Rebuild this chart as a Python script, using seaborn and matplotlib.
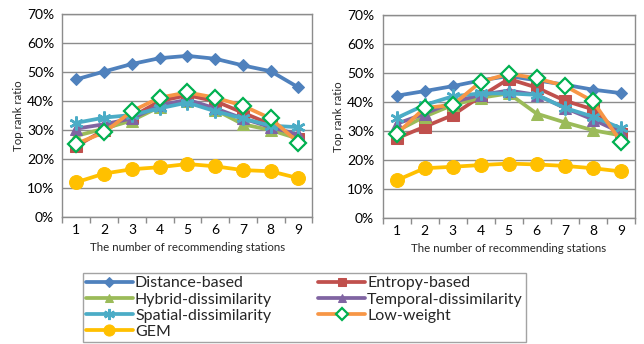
import numpy as np
import pandas as pd
import matplotlib
matplotlib.use('Agg')
import matplotlib.pyplot as plt
from matplotlib.ticker import FixedLocator, PercentFormatter
import seaborn as sns

# 数据（从图中读取，单位 %）
stations = [1, 2, 3, 4, 5, 6, 7, 8, 9]

left_distance = [47.5, 50.2, 52.8, 54.8, 55.6, 54.6, 52.3, 50.3, 44.7]
left_entropy = [24.5, 30.0, 34.5, 40.0, 42.0, 40.0, 36.0, 32.0, 27.0]
left_hybrid = [28.0, 30.5, 33.3, 38.0, 40.0, 37.0, 32.0, 30.0, 27.0]
left_temporal = [30.5, 32.0, 34.0, 38.5, 40.5, 37.5, 34.0, 31.0, 28.5]
left_spatial = [32.5, 34.3, 35.2, 37.5, 39.5, 36.5, 34.0, 31.5, 31.0]
left_lowweight = [25.3, 29.2, 36.5, 41.2, 43.0, 41.2, 38.4, 34.0, 25.7]
left_gem = [12.0, 15.0, 16.5, 17.2, 18.3, 17.5, 16.2, 15.8, 13.4]

right_distance = [42.2, 43.8, 45.5, 47.5, 49.0, 47.5, 46.0, 44.3, 43.1]
right_entropy = [27.5, 31.5, 35.5, 42.0, 48.0, 45.0, 40.5, 37.5, 29.0]
right_hybrid = [30.0, 35.0, 39.0, 41.5, 43.0, 36.0, 33.0, 30.3, 28.5]
right_temporal = [32.5, 36.0, 40.0, 42.5, 44.0, 42.5, 38.0, 34.0, 29.5]
right_spatial = [34.5, 39.0, 42.0, 43.0, 43.0, 42.5, 38.0, 35.0, 31.0]
right_lowweight = [29.0, 38.0, 39.0, 47.0, 49.8, 48.2, 45.6, 40.3, 26.3]
right_gem = [13.0, 17.2, 17.7, 18.3, 18.8, 18.5, 18.0, 17.2, 16.1]

series_names = ['Distance-based', 'Entropy-based', 'Hybrid-dissimilarity',
                'Temporal-dissimilarity', 'Spatial-dissimilarity', 'Low-weight', 'GEM']
left_values = [left_distance, left_entropy, left_hybrid, left_temporal,
               left_spatial, left_lowweight, left_gem]
right_values = [right_distance, right_entropy, right_hybrid, right_temporal,
                right_spatial, right_lowweight, right_gem]

# 样式
styles = {
    'Distance-based': dict(color='#4F81BD', marker='D', markersize=6,
                           markerfacecolor='#4F81BD', markeredgecolor='#4F81BD'),
    'Entropy-based': dict(color='#C0504D', marker='s', markersize=8,
                          markerfacecolor='#C0504D', markeredgecolor='#C0504D'),
    'Hybrid-dissimilarity': dict(color='#9BBB59', marker='^', markersize=8,
                                 markerfacecolor='#9BBB59', markeredgecolor='#9BBB59'),
    'Temporal-dissimilarity': dict(color='#8064A2', marker='^', markersize=8,
                                   markerfacecolor='#8064A2', markeredgecolor='#8064A2'),
    'Spatial-dissimilarity': dict(color='#4BACC6', marker=(6, 2, 0), markersize=10,
                                  markeredgewidth=1.8,
                                  markerfacecolor='#4BACC6', markeredgecolor='#4BACC6'),
    'Low-weight': dict(color='#F79646', marker='D', markersize=8, markeredgewidth=1.6,
                       markerfacecolor='white', markeredgecolor='#00B050'),
    'GEM': dict(color='#FFC000', marker='o', markersize=10,
                markerfacecolor='#FFC000', markeredgecolor='#FFC000'),
}

sns.set_theme(style='white')
plt.rcParams['font.family'] = ['Lato', 'DejaVu Sans']

fig = plt.figure(figsize=(6.44, 3.44), dpi=100)
ax_left = fig.add_axes([0.097, 0.369, 0.388, 0.590])
ax_right = fig.add_axes([0.594, 0.366, 0.392, 0.590])

grid_color = '#8C8C8C'

for ax, values in [(ax_left, left_values), (ax_right, right_values)]:
    for name, vals in zip(series_names, values):
        df = pd.DataFrame({'x': stations, 'y': vals})
        st = styles[name]
        sns.lineplot(data=df, x='x', y='y', ax=ax, label=name, linewidth=2.7,
                     legend=False, **st)
    ax.set_xlim(0.5, 9.5)
    ax.set_ylim(0, 70)
    ax.set_yticks(np.arange(0, 71, 10))
    ax.yaxis.set_major_formatter(PercentFormatter(decimals=0))
    ax.set_xticks(stations)
    ax.xaxis.set_minor_locator(FixedLocator(np.arange(0.5, 9.6, 1)))
    ax.tick_params(axis='x', which='major', length=0, labelsize=10, pad=5, colors='black')
    ax.tick_params(axis='x', which='minor', length=4, width=1, color=grid_color,
                   direction='out', bottom=True)
    ax.tick_params(axis='y', which='major', length=4, width=1, color=grid_color,
                   direction='out', labelsize=10, pad=2, labelcolor='black')
    ax.yaxis.grid(True, color=grid_color, linewidth=1)
    ax.set_axisbelow(True)
    for sp in ax.spines.values():
        sp.set_color(grid_color)
        sp.set_linewidth(1)
    ax.set_xlabel('The number of recommending stations', fontsize=8.3, labelpad=4)
    ax.set_ylabel('Top rank ratio', fontsize=8.3, labelpad=2)

# 图例（行优先顺序）
handles, labels = ax_left.get_legend_handles_labels()
order = [0, 2, 4, 6, 1, 3, 5]
leg = fig.legend([handles[i] for i in order], [labels[i] for i in order],
                 loc='lower left', bbox_to_anchor=(0.129, 0.006, 0.688, 0.2),
                 mode='expand', ncol=2, fontsize=11.5, frameon=True, fancybox=False,
                 handlelength=2.9, handletextpad=0.15, borderpad=0.2,
                 labelspacing=0.12, columnspacing=1.0, borderaxespad=0,
                 markerscale=0.8)
leg.get_frame().set_edgecolor(grid_color)
leg.get_frame().set_linewidth(1)

fig.savefig('out.png', dpi=100)
